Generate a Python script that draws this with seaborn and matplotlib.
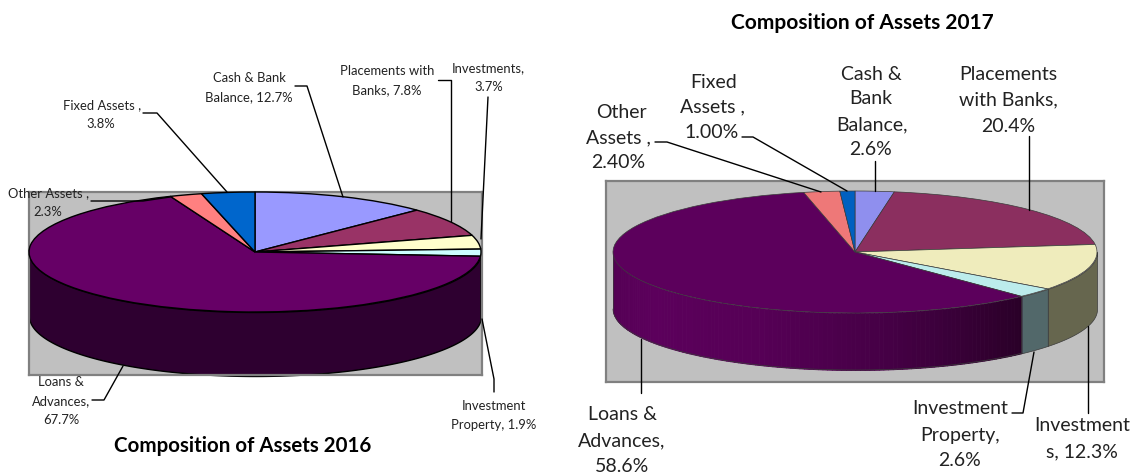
import numpy as np
import matplotlib
matplotlib.use("Agg")
import matplotlib.pyplot as plt
import seaborn as sns

sns.set_theme(style="white")
plt.rcParams["font.family"] = ["Lato", "DejaVu Sans"]

W, H = 1137, 477

# slices run clockwise from 12 o'clock
names = ["Cash & Bank Balance", "Placements with Banks", "Investments", "Investment Property",
         "Loans & Advances", "Other Assets", "Fixed Assets"]
values_2016 = [12.7, 7.8, 3.7, 1.9, 67.7, 2.3, 3.8]
values_2017 = [2.6, 20.4, 12.3, 2.6, 58.6, 2.4, 1.0]

top_2016 = ["#9999ff", "#993366", "#ffffcc", "#ccffff", "#660066", "#ff8080", "#0066cc"]
top_2017 = ["#8f8fee", "#8b2f5f", "#efecbc", "#bcecec", "#5c005c", "#ee7878", "#0060c0"]
wall_2016 = ["#2e0030"] * 7
wall_2017 = ["#4a4a88", "#521c38", "#66664e", "#52686a", None, "#8a4646", "#003870"]
loans_shade = ["#520052", "#5c005c", "#560056", "#440044", "#2a0028"]


def px_axes(box, cx, cy, rx, ry):
    # axes over the grey plot box, data units = pie radii
    x0, y0, x1, y1 = box
    ax = fig.add_axes([x0 / W, 1 - y1 / H, (x1 - x0) / W, (y1 - y0) / H])
    ax.set_facecolor("#c0c0c0")
    return ax, ((x0 - cx) / rx, (x1 - cx) / rx), ((cy - y1) / ry, (cy - y0) / ry)


def draw_pie(box, cx, cy, rx, ry, depth, values, colors, walls, edge, lw):
    ax, xlim, ylim = px_axes(box, cx, cy, rx, ry)
    d = depth / ry
    fracs = np.array(values) / sum(values)
    ends = np.cumsum(fracs) * 360
    starts = ends - fracs * 360
    for a, b, c in zip(starts, ends, walls):
        a, b = max(a, 90), min(b, 270)
        if a >= b:
            continue
        t = np.radians(np.linspace(a, b, 200))
        if isinstance(c, list):
            # shaded side of the big slice, cut in thin strips
            cuts = np.linspace(a, b, 121)
            shades = sns.blend_palette(c, 120)
            for i in range(120):
                s = np.radians(np.linspace(cuts[i], cuts[i + 1], 4))
                ax.fill_between(np.sin(s), np.cos(s), np.cos(s) - d, color=shades[119 - i],
                                lw=0.6, antialiased=False, clip_on=False)
            ax.plot(np.sin(t), np.cos(t) - d, color=edge, lw=lw, clip_on=False)
            ax.plot([np.sin(t[0])] * 2, [np.cos(t[0]), np.cos(t[0]) - d], color=edge, lw=lw)
            ax.plot([np.sin(t[-1])] * 2, [np.cos(t[-1]), np.cos(t[-1]) - d], color=edge, lw=lw, clip_on=False)
        else:
            ax.fill_between(np.sin(t), np.cos(t), np.cos(t) - d, facecolor=c, edgecolor=edge, lw=lw, clip_on=False)
    wedges, _ = ax.pie(values, colors=colors, startangle=90, counterclock=False,
                       wedgeprops={"edgecolor": edge, "linewidth": lw})
    for w in wedges:
        w.set_clip_on(False)
        w.set_zorder(3)
    ax.set_aspect("auto")
    ax.set_xlim(*xlim)
    ax.set_ylim(*ylim)
    ax.set_frame_on(True)
    for s in ax.spines.values():
        s.set_color("#808080")
        s.set_linewidth(1.6)
    return ax


fig = plt.figure(figsize=(W / 100, H / 100), dpi=100, facecolor="white")

draw_pie((29, 193, 482, 376), 255, 253, 226, 60, 64, values_2016, top_2016, wall_2016, "black", 1.0)
draw_pie((606, 182, 1104, 383), 855, 253, 242, 61, 57, values_2017, top_2017,
         wall_2017[:4] + [loans_shade] + wall_2017[5:], "#3a3a3a", 0.5)

# text and leader lines, in pixel positions
over = fig.add_axes([0, 0, 1, 1], zorder=10)
over.set_axis_off()
over.set_xlim(0, W)
over.set_ylim(H, 0)

small = [
    (49, 193, "Other Assets ,"), (48, 212, "2.3%"),
    (102, 105, "Fixed Assets ,"), (101, 124, "3.8%"),
    (249, 78, "Cash & Bank"), (249, 97, "Balance, 12.7%"),
    (387, 71, "Placements with"), (387, 90, "Banks, 7.8%"),
    (488, 68, "Investments,"), (489, 87, "3.7%"),
    (61, 382, "Loans &"), (61, 401, "Advances,"), (61, 420, "67.7%"),
    (494, 406, "Investment"), (494, 425, "Property, 1.9%"),
]
large = [
    (621, 112, "Other"), (618, 138, "Assets ,"), (618, 163, "2.40%"),
    (714, 82, "Fixed"), (712, 107, "Assets ,"), (712, 133, "1.00%"),
    (871, 74, "Cash &"), (871, 99, "Bank"), (872, 125, "Balance,"), (871, 150, "2.6%"),
    (1008, 75, "Placements"), (1008, 100, "with Banks,"), (1008, 127, "20.4%"),
    (960, 409, "Investment"), (960, 436, "Property,"), (960, 461, "2.6%"),
    (1082, 426, "Investment"), (1082, 452, "s, 12.3%"),
    (622, 415, "Loans &"), (622, 441, "Advances,"), (622, 467, "58.6%"),
]
for x, y, s in small:
    over.text(x, y, s, fontsize=9.4, ha="center", va="center", color="#222222")
for x, y, s in large:
    over.text(x, y, s, fontsize=14, ha="center", va="center", color="#222222")
over.text(243, 446, "Composition of Assets 2016", fontsize=14.8, fontweight="bold", ha="center", va="center", color="black")
over.text(862, 23, "Composition of Assets 2017", fontsize=15, fontweight="bold", ha="center", va="center", color="black")

leaders = [
    [(143, 114), (157, 114), (227, 193)],
    [(295, 87), (307, 87), (343, 198)],
    [(438, 81), (451, 81), (451, 222)],
    [(488, 98), (481, 240)],
    [(91, 202), (143, 202), (170, 198)],
    [(92, 401), (104, 401), (123, 367)],
    [(482, 320), (494, 380), (494, 393)],
    [(655, 143), (667, 143), (821, 193)],
    [(742, 138), (753, 138), (847, 192)],
    [(875, 162), (875, 192)],
    [(1029, 137), (1029, 211)],
    [(1012, 414), (1023, 414), (1034, 353)],
    [(1088, 327), (1088, 414)],
    [(641, 340), (641, 394)],
]
for pts in leaders:
    xs, ys = zip(*pts)
    over.plot(xs, ys, color="black", lw=1.0)

fig.savefig("out.png", dpi=100)
